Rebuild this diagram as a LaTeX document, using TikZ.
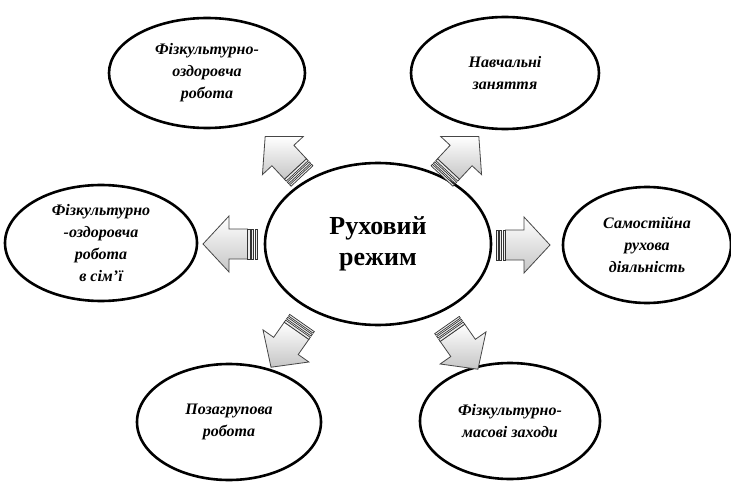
\documentclass[tikz,border=0pt]{standalone}
\usepackage{fontspec}
\setmainfont{Liberation Serif}
\usetikzlibrary{shapes.geometric}
\tikzset{
  oval/.style={ellipse,draw,line width=2.6pt,inner sep=0pt,align=center,
    font=\fontsize{16}{22}\selectfont\bfseries\itshape},
  arrowbody/.style={top color=white,bottom color=gray!45,draw=gray!55!black,line width=0.8pt,line join=miter},
  stripe/.style={fill=gray!15,draw=gray!40!black,line width=0.7pt},
  pics/blockarrow/.style={code={
    \path[arrowbody] (9.5,-15) -- (28,-15) -- (28,-28) -- (54,0) -- (28,28) -- (28,15) -- (9.5,15) -- cycle;
    \path[stripe] (0,-15) rectangle (2,15);
    \path[stripe] (3.5,-15) rectangle (5.5,15);
    \path[stripe] (7,-15) rectangle (9.5,15);
  }}
}

\begin{document}
\begin{tikzpicture}[x=1pt,y=-1pt]
  \useasboundingbox (0,0) rectangle (731,484);

  \node (main)   [oval,minimum width=226pt,minimum height=162pt,
                  font=\fontsize{26}{31}\selectfont\bfseries] at (378,244) {Руховий\\режим};

  \node (fizozd) [oval,minimum width=196pt,minimum height=110pt] at (207,73)  {Фізкультурно-\\оздоровча\\робота};
  \node (navch)  [oval,minimum width=188pt,minimum height=112pt] at (505,73)  {Навчальні\\заняття};
  \node (simya)  [oval,minimum width=192pt,minimum height=116pt] at (101,243) {Фізкультурно\\-оздоровча\\робота\\в сім’ї};
  \node (samost) [oval,minimum width=168pt,minimum height=116pt] at (647,245) {Самостійна\\рухова\\діяльність};
  \node (pozagr) [oval,minimum width=184pt,minimum height=116pt] at (229,422) {Позагрупова\\робота};
  \node (masovi) [oval,minimum width=180pt,minimum height=116pt] at (510,421) {Фізкультурно-\\масові заходи};

  % block arrows from the centre outwards
  \pic[rotate=133] at (302,176) {blockarrow};
  \pic[rotate=47]  at (442,176) {blockarrow};
  \pic[rotate=180] at (257,244) {blockarrow};
  \pic[rotate=0]   at (496,245) {blockarrow};
  \pic[rotate=235] at (302,323) {blockarrow};
  \pic[rotate=305] at (447,325) {blockarrow};
\end{tikzpicture}
\end{document}
